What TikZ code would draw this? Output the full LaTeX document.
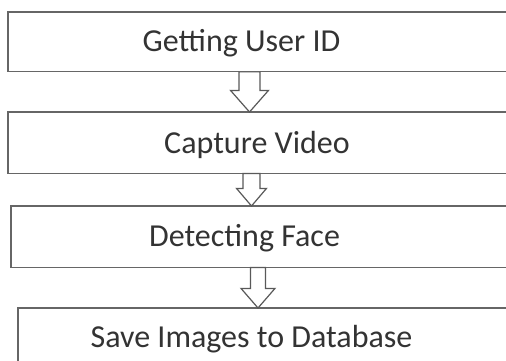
\documentclass[tikz,border=0pt]{standalone}
\usepackage{fontspec}
\setmainfont{Carlito}
\usetikzlibrary{calc}

% hollow block arrow: from, to, centre x, half shaft, half head, shaft length
\newcommand{\flowarrow}[6]{%
  \draw[hollow] let \p1=(#1.south), \p2=(#2.north) in
    (#3pt-#4pt,\y1) -- (#3pt-#4pt,\y1-#6pt) -- (#3pt-#5pt,\y1-#6pt) -- (#3pt,\y2)
    -- (#3pt+#5pt,\y1-#6pt) -- (#3pt+#4pt,\y1-#6pt) -- (#3pt+#4pt,\y1) -- cycle;}

\begin{document}
\begin{tikzpicture}[
    x=1pt, y=-1pt,
    box/.style={rectangle, anchor=north west, inner sep=0pt},
    edge/.style={draw=black!60, line width=1.2pt},
    lbl/.style={anchor=base, text=black!80, font=\fontsize{32}{38}\selectfont},
    hollow/.style={draw=black!65, line width=1.2pt, fill=white}
]
\useasboundingbox (0,0) rectangle (506,361);

% boxes run off the right side of the page
\node[box, minimum width=498pt, minimum height=59.5pt] (userid) at (8,12) {};
\node[box, minimum width=498pt, minimum height=61pt] (video) at (8,112) {};
\node[box, minimum width=495pt, minimum height=61pt] (face) at (11,206) {};
\node[box, minimum width=488pt, minimum height=53pt] (save) at (18,308) {};

\foreach \b in {userid,video,face}
  \draw[edge] (\b.north east) -- (\b.north west) -- (\b.south west) -- (\b.south east);
\draw[edge] (save.north east) -- (save.north west) -- (save.south west);

\node[lbl] (useridtext) at (241.5,52) {Getting User ID};
\node[lbl] (videotext) at (257,153) {Capture Video};
\node[lbl] (facetext) at (244.5,246) {Detecting Face};
\node[lbl] (savetext) at (251.5,347) {Save Images to Database};

\flowarrow{userid}{video}{249.5}{10.5}{19}{18.5}
\flowarrow{video}{face}{251.5}{8.5}{15}{15}
\flowarrow{face}{save}{258}{7.5}{17}{21}
\end{tikzpicture}
\end{document}
